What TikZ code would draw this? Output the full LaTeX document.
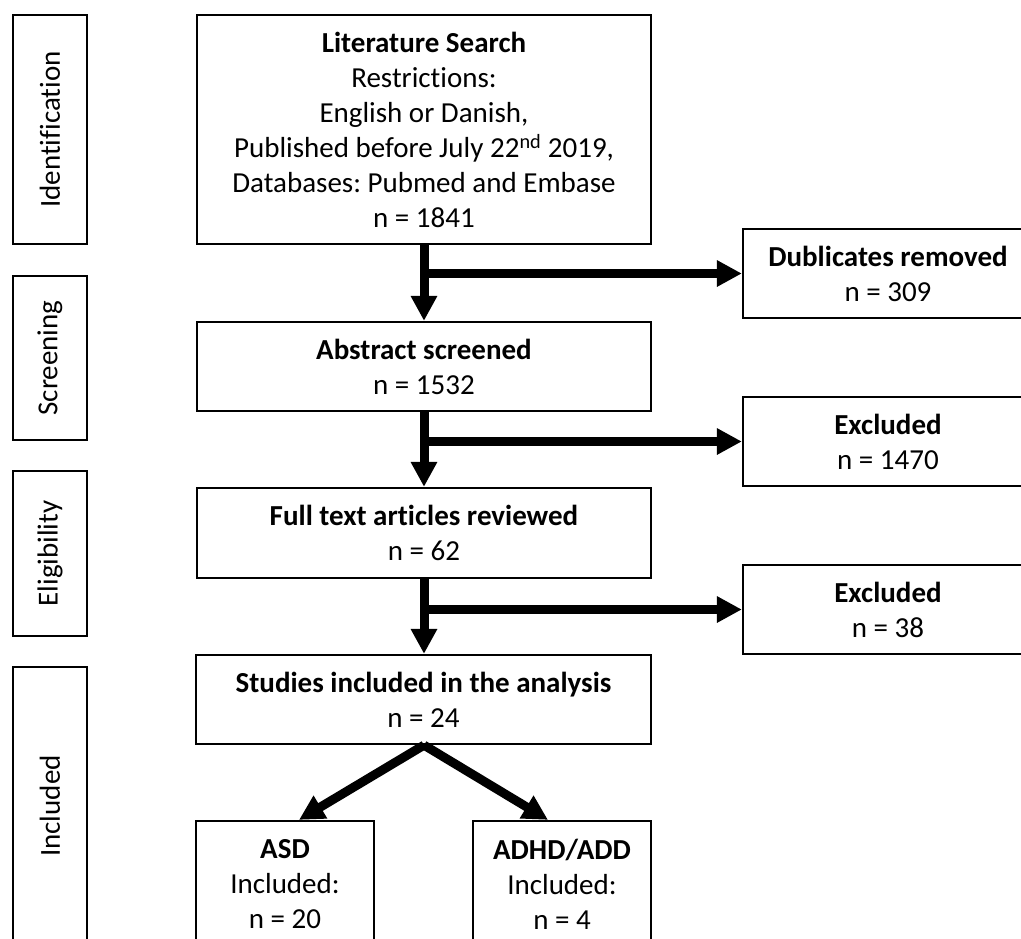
\documentclass[tikz,border=0pt]{standalone}
\usepackage{fontspec}
\setmainfont{Carlito}[Ligatures=NoCommon]
\usetikzlibrary{arrows.meta,calc}
\frenchspacing
\begin{document}
\begin{tikzpicture}[x=1pt,y=-1pt,
  box/.style={draw, line width=2.3pt, inner sep=0pt, align=center,
    font=\fontsize{29}{35}\selectfont\frenchspacing},
  side/.style={box, rotate=90, minimum height=74pt},
  arr/.style={line width=9pt, -{Triangle[length=25pt,width=25pt]}}]
\useasboundingbox (0,0) rectangle (1021,938);
\clip (0,0) rectangle (1021,938);
\fill[white] (0,0) rectangle (1021,938);
% stage labels
\node[side, minimum width=229pt] (sid) at (50,129.5) {Identification};
\node[side, minimum width=164pt] (sscr) at (50,358) {Screening};
\node[side, minimum width=165pt] (selig) at (50,553.5) {Eligibility};
\node[side, minimum width=278pt] (sinc) at (50,806) {Included};
% main column
\node[box, minimum width=454pt, minimum height=229pt] (lit) at (424,129.5)
  {\textbf{Literature Search}\\Restrictions:\\English or Danish,\\Published before July 22\textsuperscript{nd} 2019,\\Databases: Pubmed and Embase\\n = 1841};
\node[box, minimum width=454pt, minimum height=89pt] (abs) at (424,366.5)
  {\textbf{Abstract screened}\\n = 1532};
\node[box, minimum width=454pt, minimum height=90pt] (full) at (424,533)
  {\textbf{Full text articles reviewed}\\n = 62};
\node[box, minimum width=455pt, minimum height=89pt] (stud) at (423.5,699.5)
  {\textbf{Studies included in the analysis}\\n = 24};
\node[box, minimum width=178pt, minimum height=126pt] (asd) at (285,884)
  {\textbf{ASD}\\Included:\\n = 20};
\node[box, minimum width=178pt, minimum height=126pt] (adhd) at (562,884)
  {\textbf{ADHD/ADD}\\Included:\\n = 4};
% right column
\node[box, minimum width=290pt, minimum height=89pt] (dup) at (888,273.5)
  {\textbf{Dublicates removed}\\n = 309};
\node[box, minimum width=290pt, minimum height=89pt] (exa) at (888,441.5)
  {\textbf{Excluded}\\n = 1470};
\node[box, minimum width=290pt, minimum height=89pt] (exb) at (888,609.5)
  {\textbf{Excluded}\\n = 38};
% arrows
\draw[arr] (lit.south) -- (abs.north);
\draw[arr] (lit.south |- dup.west) -- (dup.west);
\draw[arr] (abs.south) -- (full.north);
\draw[arr] (abs.south |- exa.west) -- (exa.west);
\draw[arr] (full.south) -- (full.south |- stud.north);
\draw[arr] (full.south |- exb.west) -- (exb.west);
\draw[arr] (full.south |- stud.south) -- ($(asd.north)+(14,0)$);
\draw[arr] (full.south |- stud.south) -- ($(adhd.north)+(-14,0)$);
\end{tikzpicture}
\end{document}
